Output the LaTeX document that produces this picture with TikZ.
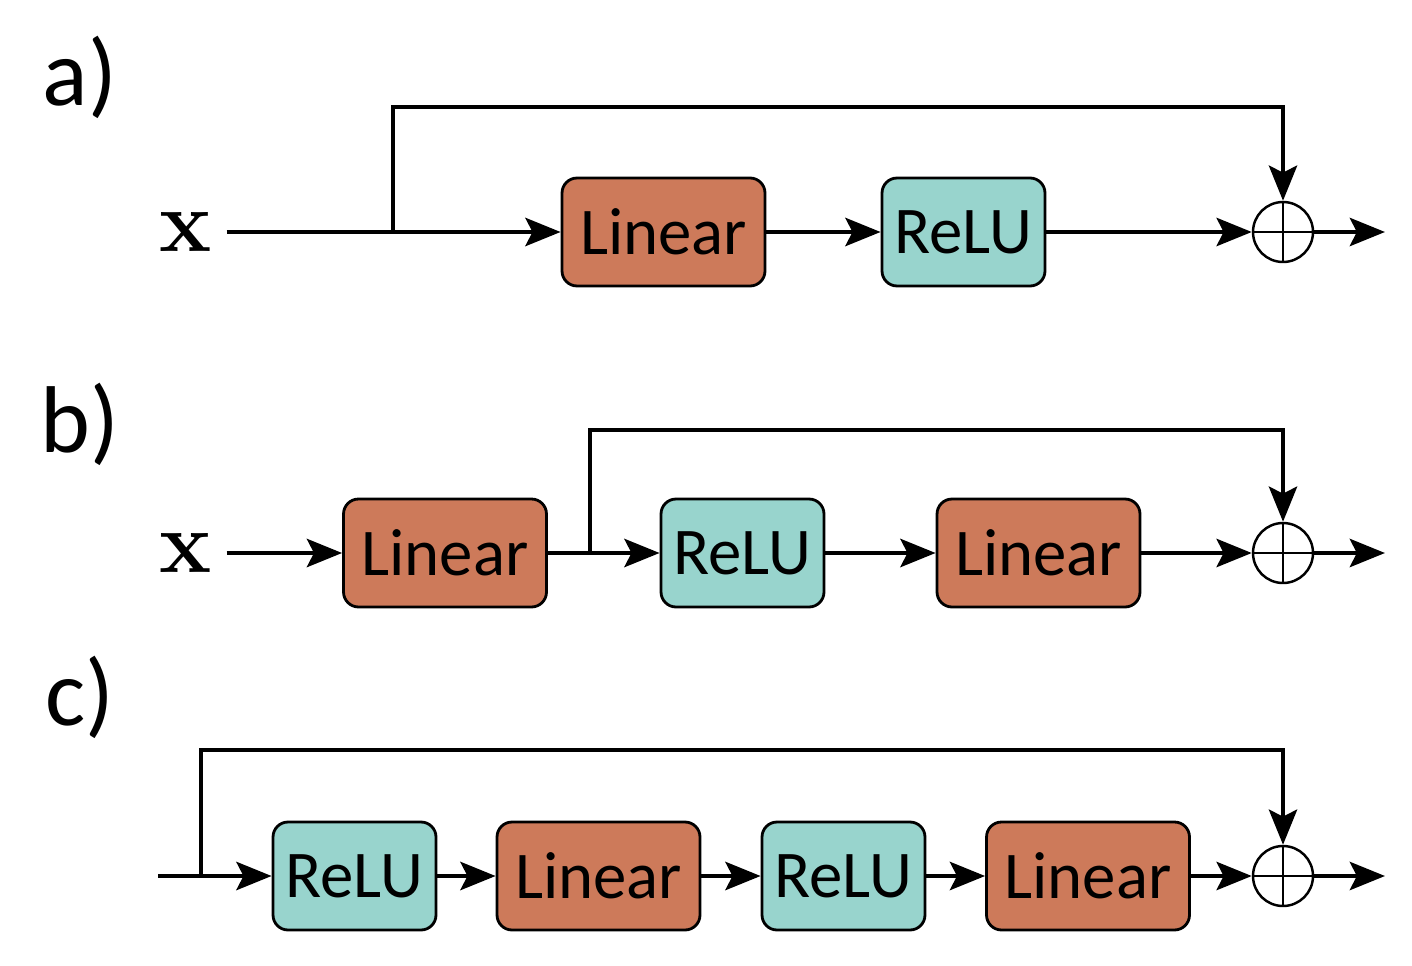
\documentclass[tikz,border=0pt]{standalone}
\usepackage[no-math]{fontspec}
\setmainfont{Carlito}
\newfontfamily\lmfont{Latin Modern Roman}
\usetikzlibrary{arrows.meta}
\definecolor{linorange}{HTML}{CD7A5A}
\definecolor{reluteal}{HTML}{98D4CD}
\tikzset{
 block/.style={draw=black, line width=1.6pt, rounded corners=0.3cm, minimum height=2.16cm, inner sep=0pt, font=\fontsize{38}{40}\selectfont},
 linbox/.style={block, fill=linorange, minimum width=4.06cm},
 relubox/.style={block, fill=reluteal, minimum width=3.26cm},
 wire/.style={line width=2.8pt},
 flow/.style={wire, -{Stealth[length=20pt,width=16pt,inset=4pt]}},
 sumnode/.style={circle, draw, line width=1.4pt, minimum size=1.2cm, inner sep=0pt,
   path picture={\draw[line width=1.4pt] (path picture bounding box.north) -- (path picture bounding box.south)
   (path picture bounding box.west) -- (path picture bounding box.east);}},
 tag/.style={font=\fontsize{54}{56}\selectfont},
 xin/.style={inner sep=8pt, font=\lmfont\bfseries\fontsize{50}{52}\selectfont}
}

\begin{document}
\begin{tikzpicture}[x=0.02cm, y=-0.02cm]
\useasboundingbox (0,0) rectangle (1412,966);

% a)
\node[tag] (taga) at (80,77) {a)};
\node[xin] (xa) at (186,232) {x};
\node[linbox] (lina) at (663.5,232) {Linear};
\node[relubox] (relua) at (963.5,232) {ReLU};
\node[sumnode] (suma) at (1283,232) {};
\coordinate (tapa) at (393,232);
\coordinate (upa) at (393,107);
\coordinate (outa) at (1385,232);
\draw[flow] (xa) -- (lina);
\draw[flow] (lina) -- (relua);
\draw[flow] (relua) -- (suma);
\draw[flow] (tapa) -- (upa) -| (suma);
\draw[flow] (suma) -- (outa);

% b)
\node[tag] (tagb) at (80,424) {b)};
\node[xin] (xb) at (186,553) {x};
\node[linbox] (linb1) at (445,553) {Linear};
\node[relubox] (relub) at (742.5,553) {ReLU};
\node[linbox] (linb2) at (1038.5,553) {Linear};
\node[sumnode] (sumb) at (1283,553) {};
\coordinate (tapb) at (590,553);
\coordinate (upb) at (590,430);
\coordinate (outb) at (1385,553);
\draw[flow] (xb) -- (linb1);
\draw[flow] (linb1) -- (relub);
\draw[flow] (relub) -- (linb2);
\draw[flow] (linb2) -- (sumb);
\draw[flow] (tapb) -- (upb) -| (sumb);
\draw[flow] (sumb) -- (outb);

% c)
\node[tag] (tagc) at (80,697) {c)};
\coordinate (inc) at (158,876);
\node[relubox] (reluc1) at (354.5,876) {ReLU};
\node[linbox] (linc1) at (598.5,876) {Linear};
\node[relubox] (reluc2) at (843.5,876) {ReLU};
\node[linbox] (linc2) at (1088,876) {Linear};
\node[sumnode] (sumc) at (1283,876) {};
\coordinate (tapc) at (201,876);
\coordinate (upc) at (201,750);
\coordinate (outc) at (1385,876);
\draw[flow] (inc) -- (reluc1);
\draw[flow] (reluc1) -- (linc1);
\draw[flow] (linc1) -- (reluc2);
\draw[flow] (reluc2) -- (linc2);
\draw[flow] (linc2) -- (sumc);
\draw[flow] (tapc) -- (upc) -| (sumc);
\draw[flow] (sumc) -- (outc);
\end{tikzpicture}
\end{document}
